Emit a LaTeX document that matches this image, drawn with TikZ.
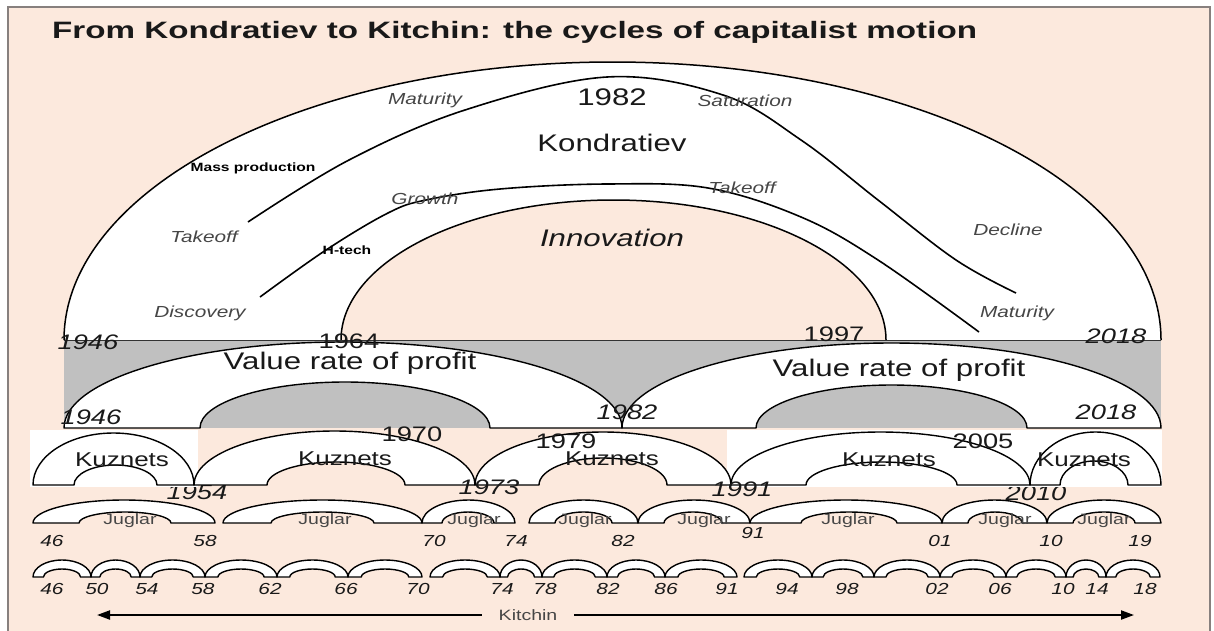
\documentclass[tikz,border=0pt]{standalone}
\usepackage{fontspec}
\setmainfont{Liberation Sans}
\newfontfamily\labf[FakeStretch=1.3]{Liberation Sans}
\newfontfamily\titf[FakeStretch=1.4]{Liberation Sans}
\usetikzlibrary{arrows.meta}
\definecolor{peach}{RGB}{252,233,221}
\definecolor{band}{RGB}{192,192,192}
\definecolor{framec}{RGB}{135,128,126}
\definecolor{txt}{RGB}{25,25,25}
\definecolor{soft}{RGB}{70,70,70}
\newcommand\archshape[7]{%
  \draw[archline] (#1,-#3) arc[start angle=180,end angle=0,x radius={(#2-#1)/2},y radius=#4]
    -- (#6,-#3) arc[start angle=0,end angle=180,x radius={(#6-#5)/2},y radius=#7] -- cycle;}
\newcommand\kitarch[2]{%
  \pgfmathsetmacro\kia{#1+0.18*(#2-#1)}%
  \pgfmathsetmacro\kib{#2-0.18*(#2-#1)}%
  \archshape{#1}{#2}{577}{17}{\kia}{\kib}{8}}
\begin{document}
\begin{tikzpicture}[x=1pt,y=1pt,
  archline/.style={draw=black,fill=white,line width=1.4pt,line join=round},
  curve/.style={draw=black,line width=1.6pt},
  lab/.style={font=\labf\fontsize{16}{18}\selectfont\itshape,text=soft,inner sep=0pt},
  big/.style={font=\labf\fontsize{24}{28}\selectfont,text=txt,inner sep=0pt},
  bigit/.style={font=\labf\fontsize{24}{28}\selectfont\itshape,text=txt,inner sep=0pt},
  yr/.style={font=\labf\fontsize{21}{24}\selectfont\itshape,text=txt,inner sep=0pt},
  yrup/.style={font=\labf\fontsize{21}{24}\selectfont,text=txt,inner sep=0pt},
  kuz/.style={font=\labf\fontsize{20}{24}\selectfont,text=txt,inner sep=0pt},
  jug/.style={font=\labf\fontsize{15}{18}\selectfont,text=soft,inner sep=0pt},
  sy/.style={font=\labf\fontsize{16}{18}\selectfont\itshape,text=txt,inner sep=0pt},
  tinyb/.style={font=\labf\fontsize{12}{14}\selectfont\bfseries,text=black,inner sep=0pt},
  arr/.style={draw=black,line width=2pt,-{Triangle[length=13pt,width=9pt]}},
]
\useasboundingbox (0,0) rectangle (1214,-630);
\fill[white] (0,0) rectangle (1214,-630);
\draw[framec,fill=peach,line width=2pt] (8,-7) rectangle (1210,-640);
% title
\node[anchor=west,inner sep=0pt,text=txt,font=\titf\fontsize{23.7}{28}\selectfont\bfseries] (title) at (52,-32) {From Kondratiev to Kitchin: the cycles of capitalist motion};
% Kondratiev band
\filldraw[fill=white,draw=black,line width=1.5pt] (64,-340) arc[start angle=180,end angle=0,x radius=548.5,y radius=278];
\filldraw[fill=peach,draw=black,line width=1.5pt] (341,-340) arc[start angle=180,end angle=0,x radius=272.5,y radius=140];
\draw[curve] plot[smooth,tension=0.6] coordinates {(248,-222) (349,-160) (465,-110) (607,-77) (723,-95) (801,-140) (878,-200) (956,-260) (1016,-293)};
\draw[curve] plot[smooth,tension=0.6] coordinates {(260,-297) (326,-250) (388,-213) (426,-200) (500,-189) (607,-184) (708,-188) (801,-217) (878,-260) (979,-332)};
% value rate of profit band
\fill[band] (64,-340) rectangle (1161,-428);
\draw[black!80,line width=0.8pt] (64,-340) -- (1161,-340);
\archshape{64}{622}{428}{86}{200}{490}{46}
\archshape{622}{1161}{428}{85}{756}{1027}{43}
% hidden years under Kuznets row
\node[yr] (y54) at (197,-492) {1954};
\node[yr] (y10) at (1036,-493) {2010};
\fill[white] (30,-430) rectangle (198,-487);
\fill[white] (727,-430) rectangle (1162,-487);
% Kuznets
\archshape{33}{194}{485}{52}{74}{157}{20}
\archshape{194}{475}{485}{54}{267}{405}{23}
\archshape{475}{731}{485}{53}{539}{667}{27}
\archshape{731}{1030}{485}{53}{806}{957}{23}
\archshape{1030}{1161}{485}{53}{1060}{1128}{24}
% Juglar
\archshape{33}{215}{523}{23}{79}{171}{11}
\archshape{223}{422}{523}{23}{271}{374}{11}
\archshape{422}{515}{523}{23}{442}{494}{11}
\archshape{529}{638}{523}{23}{555}{612}{11}
\archshape{638}{750}{523}{23}{664}{722}{11}
\archshape{750}{942}{523}{23}{801}{897}{11}
\archshape{942}{1047}{523}{23}{968}{1022}{11}
\archshape{1047}{1161}{523}{23}{1073}{1135}{11}
% Kitchin
\kitarch{33}{91}\kitarch{91}{140}\kitarch{140}{205}\kitarch{205}{277}\kitarch{277}{348}\kitarch{348}{422}
\kitarch{430}{500}\kitarch{500}{542}\kitarch{542}{607}\kitarch{607}{665}\kitarch{665}{737}
\kitarch{744}{812}\kitarch{812}{874}\kitarch{874}{940}\kitarch{940}{1006}\kitarch{1006}{1066}\kitarch{1066}{1106}\kitarch{1106}{1160}
% Kondratiev labels
\node[lab] (matL) at (425,-100) {Maturity};
\node[big] (k82) at (612,-97) {1982};
\node[lab] (sat) at (745,-101) {Saturation};
\node[big] (kon) at (612,-143) {Kondratiev};
\node[tinyb] (mass) at (253,-168) {Mass production};
\node[lab] (gro) at (425,-199) {Growth};
\node[lab] (takR) at (742,-188) {Takeoff};
\node[lab] (takL) at (204,-237) {Takeoff};
\node[tinyb] (htech) at (347,-250) {H-tech};
\node[bigit] (inn) at (612,-238) {Innovation};
\node[lab] (dec) at (1008,-230) {Decline};
\node[lab] (disc) at (200,-313) {Discovery};
\node[lab] (matR) at (1017,-313) {Maturity};
\node[yr] (y46a) at (88,-342) {1946};
\node[yrup] (y64) at (349,-341) {1964};
\node[yrup] (y97) at (834,-334) {1997};
\node[yr] (y18a) at (1116,-336) {2018};
% value labels
\node[big] (vrp1) at (350,-363) {Value rate of profit};
\node[big] (vrp2) at (899,-370) {Value rate of profit};
\node[yr] (y46b) at (91,-417) {1946};
\node[yr] (y82b) at (627,-412) {1982};
\node[yr] (y18b) at (1106,-412) {2018};
% Kuznets labels
\node[kuz] (kz1) at (122,-460) {Kuznets};
\node[kuz] (kz2) at (345,-459) {Kuznets};
\node[kuz] (kz3) at (612,-459) {Kuznets};
\node[kuz] (kz4) at (889,-460) {Kuznets};
\node[kuz] (kz5) at (1084,-460) {Kuznets};
\node[yrup] (y70) at (412,-434) {1970};
\node[yrup] (y79) at (566,-441) {1979};
\node[yrup] (y05) at (983,-441) {2005};
\node[yr] (y73) at (489,-487) {1973};
\node[yr] (y91) at (742,-489) {1991};
% Juglar labels
\node[jug] (jg1) at (130,-521) {Juglar};
\node[jug] (jg2) at (325,-521) {Juglar};
\node[jug] (jg3) at (474,-521) {Juglar};
\node[jug] (jg4) at (585,-521) {Juglar};
\node[jug] (jg5) at (704,-521) {Juglar};
\node[jug] (jg6) at (848,-521) {Juglar};
\node[jug] (jg7) at (1005,-521) {Juglar};
\node[jug] (jg8) at (1104,-521) {Juglar};
\node[sy] (j46) at (52,-541) {46};
\node[sy] (j58) at (205,-541) {58};
\node[sy] (j70) at (434,-541) {70};
\node[sy] (j74) at (516,-541) {74};
\node[sy] (j82) at (623,-541) {82};
\node[sy] (j91) at (753,-533) {91};
\node[sy] (j01) at (940,-541) {01};
\node[sy] (j10) at (1051,-541) {10};
\node[sy] (j19) at (1140,-541) {19};
% Kitchin labels
\foreach \xx/\tt in {52/46,97/50,147/54,203/58,270/62,346/66,418/70,502/74,545/78,608/82,666/86,727/91,787/94,847/98,937/02,1000/06,1063/10,1097/14,1145/18}
  \node[sy] (k\tt) at (\xx,-589) {\tt};
% Kitchin arrow
\node[font=\labf\fontsize{15}{18}\selectfont,text=soft,fill=peach,inner xsep=17pt,inner ysep=2pt] (kit) at (528,-615) {Kitchin};
\coordinate (kl) at (97,-615);
\coordinate (kr) at (1134,-615);
\draw[arr] (kit.west) -- (kl);
\draw[arr] (kit.east) -- (kr);
\end{tikzpicture}
\end{document}
